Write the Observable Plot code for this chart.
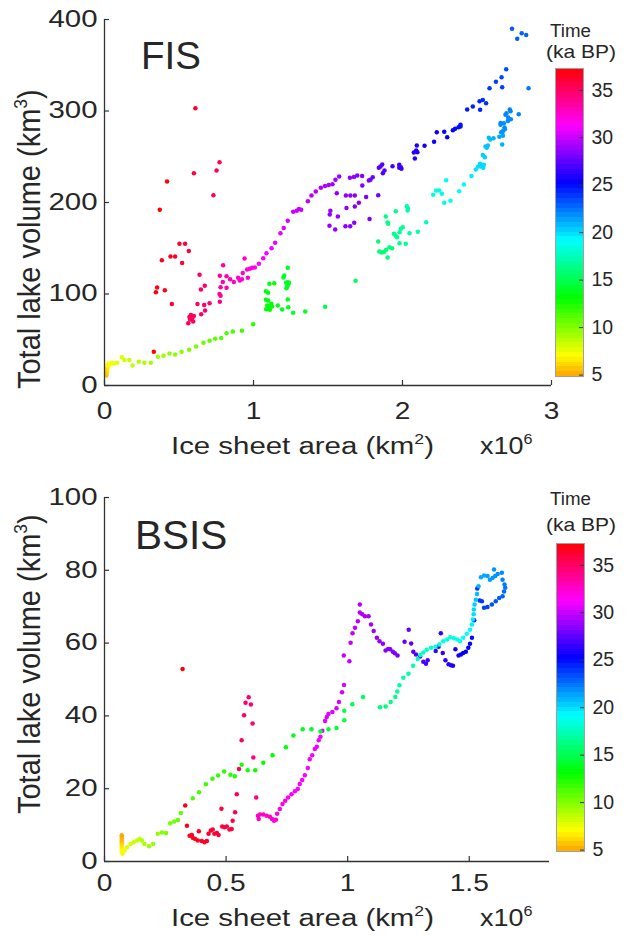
<!DOCTYPE html>
<html><head><meta charset="utf-8">
<script src="https://cdn.jsdelivr.net/npm/d3@7"></script>
<script src="https://cdn.jsdelivr.net/npm/@observablehq/plot@0.6"></script>
<style>
body{margin:0;background:#fff;}
#fig{position:relative;width:629px;height:937px;overflow:hidden;font-family:"Liberation Sans",Arial,sans-serif;background:#fff;}
#fig svg{position:absolute;overflow:visible;}
</style></head><body><div id="fig"></div>
<script>
// ---------- FIS (ice sheet area in 10^6 km2, lake volume km3, time ka BP) ----------
const fisArea = [
0.61,0.42,0.371,0.331,0.353,0.345,0.405,0.452,0.385,0.443,0.474,0.503,0.541,0.566,0.521,
0.60,0.772,0.752,0.731,0.638,0.647,0.673,0.624,0.669,0.705,0.675,0.57,0.58,0.59,0.575,0.585,0.595,0.562,0.60,0.649,
0.796,0.774,0.819,0.779,0.819,0.794,0.772,0.779,0.774,0.843,
0.868,0.897,0.908,0.922,0.94,0.957,0.928,0.962,0.975,0.991,
1.009,1.036,1.065,1.087,1.121,1.145,1.181,1.203,1.23,1.266,
1.29,1.305,1.32,1.365,1.389,1.418,1.452,1.48,1.505,1.53,
1.55,1.575,
1.647,1.674,1.696,1.729,1.73,1.774,1.785,1.80,1.559,1.62,
1.65,1.68,1.756,1.837,1.707,1.68,1.624,1.516,1.512,1.566,
1.779,1.676,1.649,1.617,1.51,1.548,
1.879,1.864,1.852,1.841,1.868,1.933,1.978,1.978,1.989,1.993,
2.083,2.076,2.1,2.092,2.096,2.148,2.212,2.23,2.28,2.3,
2.338,2.353,2.376,2.389,2.389,2.434,2.472,2.521,2.517,2.539,
2.561,2.584,2.627,2.669,2.665,2.696,
2.735,2.77,2.8,2.83,2.846,
2.658,2.672,2.687,2.658,2.68,2.691,2.698,2.72,2.725,2.709,
2.727,2.707,2.685,2.662,2.676,2.78,
2.65,2.669,2.674,2.589,2.611,2.579,2.566,2.557,2.573,2.539,
2.553,2.492,2.508,2.526,2.542,2.546,2.521,2.463,2.412,2.38,
2.322,2.293,2.28,2.264,2.246,2.226,2.206,
2.159,2.103,2.047,2.029,2.034,2.036,2.022,1.98,1.989,2.002,
1.98,1.953,1.942,1.964,1.955,1.888,1.9,1.904,1.93,1.913,
1.9,1.89,1.875,1.859,1.844,1.837,1.685,1.481,1.347,
1.266,1.23,1.206,1.201,1.221,1.219,1.226,1.23,1.239,1.233,
1.23,1.233,1.192,1.163,1.139,1.107,1.083,1.098,1.083,1.098,
1.119,1.085,1.103,1.125,1.11,1.092,
0.998,0.922,0.861,0.819,0.783,0.743,0.705,0.664,0.615,0.568,
0.517,0.474,0.436,0.396,0.358,0.311,0.268,0.23,0.188,0.166,
0.134,0.116,0.085,0.063,0.05,0.036,0.028,0.022,0.018,0.015,
0.013,0.01,0.012,0.02];
const fisVolume = [
303,223,192,37,107,102,104,89,137,141,141,155,155,147,134,
232,244,235,208,121,105,109,89,88,90,82,75,77,74,72,73,70,68,76,78,
131.5,120,119.5,107.5,106.7,113,100,98,91.4,116,
113,117.7,114.8,116,138.8,126.8,123,117.7,127.5,128.6,
129,133,139,144.6,150,156,166.5,172,180,190,
191,193,192,201.5,207.6,212,216,218,219,220,
224.8,228.4,
227,228,229.5,229,218.6,224,224.8,227.7,210,207.6,
207.6,207.6,206,208,199.6,195.6,194,191,187,184.7,
182,177.8,174,174,174.5,170.5,
235,241.5,239.3,237.9,232,239.7,241.2,237.9,238.6,236.8,
248,254.6,255,256.8,262.3,262,266.3,276.9,277.2,271.4,
279,280.5,282.3,283,284.9,301.6,305,301.3,310.7,312,
308.6,325,332,326,337,345.7,
390,379,385,383,325,
285,277,280,287,286.7,295.8,297.6,301.6,299.8,293,
291,289,282,276.9,278.7,296.5,
271.8,263.4,272.9,268.9,270.3,270.7,259.7,261.2,262.3,252,
249.5,236,239.3,239.3,237.9,241.2,242.3,229,219.7,212.4,
201.8,224.4,199.6,209.5,213,213,208.4,
178.5,168,166.5,196,191.3,193.8,154.8,155.6,171.2,173,
167.6,164,165.8,162,190.5,184.7,178.1,176.7,150,151,
140,148.3,146,145.4,146.4,157.4,114.4,86,80.9,
79.4,128.6,120.2,118,106.4,112.2,108.6,112.9,112.2,110.4,
94,85.6,83,87.4,111.8,111.1,103.1,101.3,93.6,92.9,
89.3,83.4,85.6,86.3,82.7,87.4,
67,59.7,59,57.2,52,51,49,46.6,42.6,39,
37,34,35,32.4,31.3,25,25,26,21.9,28,
28,31,25,24,25,23,24,20,16.4,14,
11,13,18,22];
const fisTime = [
36.6,37.0,37.1,37.2,36.8,36.9,36.6,36.4,36.8,36.5,36.4,36.2,36.1,35.9,36.1,
35.6,35.0,35.1,35.2,35.0,35.0,34.8,35.1,34.8,34.5,34.7,35.4,35.3,35.3,35.3,35.2,35.1,35.3,35.1,34.8,
33.5,33.6,33.2,33.6,33.2,33.4,33.8,33.8,34,32.9,
32.8,32.6,32.5,32.4,32.4,32.2,32.3,32.2,32,31.9,
31.8,31.6,31.4,31.2,31,30.8,30.6,30.5,30.3,30.1,
30,29.9,29.9,29.7,29.6,29.5,29.4,29.3,29.2,29.1,
29,28.9,
28.6,28.5,28.4,28.3,28.3,28.1,28,27.9,28.8,28.6,
28.5,28.4,28.2,28,28.4,28.4,28.6,28.8,28.8,28.7,
28.2,28.4,28.5,28.5,28.8,28.7,
27.3,27.2,27.2,27.3,27.2,26.8,26.6,26.6,26.5,26.5,
26.1,26.1,26,26,25.9,25.7,25.5,25.4,25.3,25.2,
25.1,25,24.9,24.9,24.8,24.6,24.5,24.4,24.3,24.2,
24.1,23.9,23.7,23.6,23.5,23.4,
23.1,23,22.9,22.8,22.3,
21.8,21.7,21.8,21.9,21.9,22,22,22.1,22.1,22,
22,21.9,21.8,21.6,21.7,22.1,
21.2,21,21.2,20.8,20.9,20.8,20.5,20.5,20.6,20.3,
20.2,19.8,19.9,19.9,20,20,20,19.6,19.3,19.1,
18.9,18.8,18.6,18.5,18.4,18.3,18.2,
17.6,17.3,17,16.9,16.9,16.9,16.7,16.6,16.6,16.6,
16.5,16.5,16.4,16.5,16.3,16.2,16.2,16.2,16.1,16.1,
16,16,15.9,15.9,15.8,15.8,15.2,14.6,14.3,
14.1,14,14,14,13.9,13.9,13.9,13.9,13.9,13.9,
13.8,13.8,13.7,13.6,13.5,13.5,13.4,13.4,13.3,13.3,
13.3,13.2,13.2,13.2,13.1,13.2,
12.0,11.7,11.5,11.3,11.1,10.9,10.7,10.5,10.3,10.1,
9.9,9.7,9.6,9.5,9.3,9.1,8.9,8.7,8.5,8.3,
8.1,7.9,7.7,7.5,7.3,7.1,7.0,6.8,6.5,6.1,
5.5,5.8,6.3,6.9];

// ---------- BSIS ----------
const bsisArea = [
0.321,0.332,0.339,0.35,0.359,0.363,0.373,0.384,0.388,0.4,
0.411,0.421,0.428,0.437,0.445,0.452,0.462,0.469,0.481,0.484,
0.493,0.503,0.514,0.523,0.527,0.537,0.544,0.553,0.564,0.574,
0.58,0.593,0.602,0.609,0.612,0.624,
0.631,0.634,0.639,0.653,0.667,0.68,0.689,0.697,0.705,0.71,
0.721,0.732,0.743,0.755,0.769,0.783,0.795,0.803,0.813,0.824,
0.836,0.844,0.854,0.865,0.873,0.881,0.888,0.896,0.907,0.914,
0.921,0.937,0.954,0.964,0.977,0.985,
1.007,0.984,1.012,1.02,1.03,1.042,1.05,1.05,1.06,1.071,
1.086,1.096,1.107,1.12,1.131,1.145,1.156,1.166,1.175,1.186,
1.194,1.205,
1.234,1.251,1.261,1.27,1.281,1.298,1.311,1.322,1.329,1.362,
1.374,1.383,1.391,1.402,1.415,1.425,1.433,1.443,1.456,1.466,
1.475,1.486,1.496,1.503,1.511,
1.52,1.533,1.543,1.552,1.561,1.575,1.593,1.609,1.623,1.637,
1.643,1.648,1.645,1.637,1.634,
1.617,1.607,1.596,1.585,1.575,1.602,1.561,1.548,
1.538,1.532,1.527,1.522,1.519,1.518,1.515,1.511,1.503,1.49,
1.475,1.462,1.451,1.437,1.422,1.409,1.393,1.377,1.361,1.343,
1.325,1.311,1.299,1.288,1.269,1.25,1.229,
1.213,1.204,1.196,1.177,1.156,1.133,1.063,1.019,0.986,0.986,
0.954,0.921,0.888,0.851,0.815,0.777,0.746,0.691,0.653,0.62,
0.589,0.564,0.536,0.518,0.492,0.467,0.444,0.417,0.389,0.363,
0.314,0.302,0.287,0.27,0.253,0.236,0.219,0.2,0.183,0.164,
0.154,0.145,0.134,0.12,0.107,0.093,0.082,0.074,
0.071,0.071,0.071,0.071,0.071,0.071,0.071,0.071,0.071,0.071];
const bsisVolume = [
52.9,15.4,9.8,7.1,7.3,6.5,6.2,5.75,8.3,5.6,
5.3,5.6,7.6,8.5,8.8,7.6,7.8,7.3,14.5,9.6,
9.4,9.6,8.8,8.9,11.2,13.5,18.5,25.4,33.3,40.2,
43.6,45.1,43.1,37.9,28.6,17.6,
12.6,11.7,12.9,12.9,12.6,12.3,11.7,11.2,11.5,13.1,
14.4,15.8,16.7,17.6,18.5,19.3,19.9,21.3,22.4,23.7,
25.7,28.1,29.2,30.9,31.5,33.3,34.3,35.9,38.6,39.7,
40.5,41.1,42.1,43.8,46.5,48.5,
55,56.6,60.1,62.7,64.2,66,70.6,68.4,67.9,67.4,
67.4,65.1,63.3,61.5,60.5,59.8,58,58.4,58.3,57.6,
57.2,56.6,
60.4,63.7,59.9,57.6,56.9,56.3,54.9,54.3,55.3,57.8,
59,62.7,57.3,55.3,54.2,53.9,53.8,58.3,56.6,56.9,
57.3,57.6,58.7,59.8,61.5,
66.3,75,71.7,71.5,69.7,69.9,70.6,71.5,72.4,72.9,
74.2,75.2,76.1,77.4,79.3,
79,78.4,77.9,77.4,78.4,80.2,78.6,78.1,
75.6,73.5,71.9,70.6,69.2,67.9,66.5,65.1,63.7,62.6,
61.5,60.5,61,61.3,61.6,61,60.5,59.6,59,58.7,
58.2,57.4,56.7,55.6,53.8,51.6,50.5,
48.4,46.7,45.2,43.8,42.6,42.4,45.2,43.2,41.4,38.8,
36.7,36.3,35.7,36.3,36.3,34.6,31.4,29.2,27.1,25.1,
25.1,26.6,23.4,23.8,24.7,23.6,22.7,21.2,19,17.4,
13.3,11.4,11,10.5,7.8,8,7.6,4.8,4.2,4.8,
5.75,6.2,5.75,5.3,4.8,3.9,3,2.1,
2.8,3.3,3.8,4.3,4.8,5.3,5.8,6.3,6.8,7.2];
const bsisTime = [
37.1,36.9,36.8,36.7,36.7,36.6,36.6,36.5,36.5,36.4,
36.4,36.3,36.3,36.2,36.2,36.1,36.1,36,36,35.9,
35.9,35.8,35.8,35.7,35.6,35.5,35.3,35.2,35,34.9,
34.8,34.7,34.6,34.5,34.4,34.2,
32.8,32.7,32.6,32.6,32.5,32.4,32.3,32.3,32.2,32.1,
32.0,31.9,31.9,31.8,31.7,31.6,31.5,31.5,31.4,31.3,
31.2,31.2,31.1,31.0,30.9,30.9,30.8,30.7,30.7,30.6,
30.5,30.5,30.4,30.4,30.3,30.3,
30,30.1,29.9,29.8,29.7,29.6,29.5,29.4,29.3,29.2,
29.1,29,28.9,28.8,28.7,28.6,28.5,28.4,28.3,28.2,
28.1,28,
27.6,27.5,27.4,27.3,27.2,27.1,27,26.9,26.8,26.6,
26.5,26.4,26.3,26.2,26.1,26,25.9,25.7,25.5,25.4,
25.3,25.2,25.1,25,24.9,
24.6,24.3,24.1,23.9,23.8,23.6,23.4,23.2,23,22.8,
22.6,22.4,22.3,22.1,21.9,
21.8,21.7,21.6,21.5,21.4,21.6,21.2,21.1,
20.9,20.7,20.5,20.3,20.1,19.9,19.7,19.5,19.3,19.1,
18.9,18.8,18.7,18.6,18.5,18.4,18.3,18.2,18.1,18,
17.9,17.8,17.7,17.6,17.4,17.2,17,
16.8,16.6,16.4,16.2,16,15.8,15.4,15.1,14.9,14.8,
14.6,14.4,14.2,14,13.8,13.6,13.4,13.2,13,12.8,
12.6,12.5,12.3,12.2,12.1,12,11.8,11.6,11.4,11.2,
10.9,10.7,10.5,10.3,10.1,9.9,9.7,9.5,9.3,9.1,
8.9,8.7,8.5,8.3,8.1,7.9,7.7,7.5,
7.3,7.0,6.7,6.4,6.1,5.8,5.5,5.3,5.1,4.9];

// ---------- ticks ----------
const fisXTicks = [0, 1, 2, 3];
const fisYTicks = [0, 100, 200, 300, 400];
const bsisXTicks = [0, 0.5, 1, 1.5];
const bsisYTicks = [0, 20, 40, 60, 80, 100];
const timeTicks = [5, 10, 15, 20, 25, 30, 35];
const timeDomain = [4.85, 37.3];

const FONT = "'Liberation Sans', Arial, Helvetica, sans-serif";
const INK = "#262626";
const AXIS = "#333";
const fmt = d3.format("~g");
const colorOpts = {
  type: "linear", domain: timeDomain,
  interpolate: (u) => d3.hsl(38.5 + 321.3 * u, 1, 0.5).formatHex()
};

const fig = document.getElementById("fig");

// widen tick-label glyphs horizontally around their anchor (keeps em-based y offsets)
function stretch(svg, selector, sx) {
  svg.querySelectorAll(selector).forEach((t) => {
    const tr = t.getAttribute("transform") || "";
    const x = t.getAttribute("x");
    let extra = "";
    if (x !== null && !/em$/.test(x)) {
      extra = ` translate(${+x || 0},0)`;
      t.removeAttribute("x");
    }
    t.setAttribute("transform", `${tr}${extra} scale(${sx},1)`.trim());
  });
}

function addText(svg, {x, y, size, sx = 1, rotate = 0, anchor = "start", parts}) {
  const t = d3.select(svg).append("text")
    .attr("transform", `translate(${x},${y}) scale(${sx},1)${rotate ? ` rotate(${rotate})` : ""}`)
    .attr("font-family", FONT).attr("font-size", size).attr("fill", INK)
    .attr("text-anchor", anchor);
  let back = 0;
  for (const p of parts) {
    if (typeof p === "string") {
      const ts = t.append("tspan").text(p);
      if (back) { ts.attr("dy", back); back = 0; }
    } else {
      const sh = size * 0.42;
      t.append("tspan").attr("font-size", size * 0.6).attr("dy", -sh).text(p.sup);
      back = sh;
    }
  }
}

function panel({area, vol, time, xDomain, xTicks, yDomain, yTicks, top, height, marginTop, marginBottom, marginRight, xPad, title, titleX, titleY, titleSize, yLabelStart, xLabelY, cbTitle}) {
  const rows = area.map((a, i) => ({a, v: vol[i], t: time[i]}));
  const innerW = 629 - 104 - marginRight;
  const innerH = height - marginTop - marginBottom;
  const svg = Plot.plot({
    width: 629, height,
    marginLeft: 104, marginRight, marginTop, marginBottom,
    style: {fontFamily: FONT, color: INK, background: "transparent", overflow: "visible"},
    x: {domain: xDomain}, y: {domain: yDomain},
    color: colorOpts,
    marks: [
      Plot.dot(rows, {x: "a", y: "v", fill: "t", r: 2.25}),
      Plot.ruleX([0], {stroke: AXIS, strokeWidth: 1.3}),
      Plot.ruleY([0], {stroke: AXIS, strokeWidth: 1.3}),
      // inward tick marks
      Plot.ruleX(xTicks, {stroke: AXIS, strokeWidth: 1.2, insetTop: innerH - 5}),
      Plot.ruleY(yTicks, {stroke: AXIS, strokeWidth: 1.2, insetRight: innerW - 5}),
      Plot.axisX({ticks: xTicks, tickSize: 0, tickPadding: xPad, fontSize: 24, color: INK, label: null, tickFormat: fmt}),
      Plot.axisY({ticks: yTicks, tickSize: 0, tickPadding: 7, fontSize: 23, color: INK, label: null, tickFormat: fmt})
    ]
  });
  svg.style.left = "0px"; svg.style.top = top + "px";
  stretch(svg, 'g[aria-label="x-axis tick label"] text', 1.17);
  stretch(svg, 'g[aria-label="y-axis tick label"] text', 1.28);
  addText(svg, {x: titleX, y: titleY, size: titleSize, parts: [title]});
  addText(svg, {x: 40, y: yLabelStart, size: 29, sx: 1.1, rotate: -90, parts: ["Total lake volume (km", {sup: "3"}, ")"]});
  addText(svg, {x: 171, y: xLabelY, size: 24.5, sx: 1.2, parts: ["Ice sheet area (km", {sup: "2"}, ")"]});
  addText(svg, {x: 480, y: xLabelY, size: 24.5, sx: 1.1, parts: ["x10", {sup: "6"}]});
  addText(svg, {x: 550, y: cbTitle[0], size: 17.5, sx: 1.07, parts: ["Time"]});
  addText(svg, {x: 546, y: cbTitle[1], size: 17.5, sx: 1.2, parts: ["(ka BP)"]});
  fig.appendChild(svg);
}

function colorbar(left, top) {
  const n = 64, step = (timeDomain[1] - timeDomain[0]) / n;
  const bands = d3.range(n).map((i) => ({
    lo: timeDomain[0] + i * step, hi: timeDomain[0] + (i + 1) * step, mid: timeDomain[0] + (i + 0.5) * step
  }));
  const barW = 28;
  const svg = Plot.plot({
    width: 75, height: 328, marginLeft: 1, marginRight: 75 - 1 - barW, marginTop: 10, marginBottom: 10,
    style: {fontFamily: FONT, color: INK, background: "transparent", overflow: "visible"},
    x: {domain: [0, 1], axis: null}, y: {domain: timeDomain, axis: null},
    color: colorOpts,
    marks: [
      Plot.rect(bands, {x1: 0, x2: 1, y1: "lo", y2: "hi", fill: "mid", shapeRendering: "crispEdges"}),
      Plot.frame({stroke: "#a0a0a0", strokeWidth: 1}),
      Plot.ruleY(timeTicks, {stroke: AXIS, strokeWidth: 1, insetLeft: barW - 4}),
      Plot.axisY({anchor: "right", ticks: timeTicks, tickSize: 0, tickPadding: 8, fontSize: 19.5, color: INK, label: null})
    ]
  });
  svg.style.left = left + "px"; svg.style.top = top + "px";
  fig.appendChild(svg);
}

panel({area: fisArea, vol: fisVolume, time: fisTime, xDomain: [0, 3], xTicks: fisXTicks,
  yDomain: [0, 400], yTicks: fisYTicks, top: 0, height: 470, marginTop: 19, marginBottom: 85, marginRight: 78,
  xPad: 16, title: "FIS", titleX: 141, titleY: 69, titleSize: 38.5, yLabelStart: 389, xLabelY: 454, cbTitle: [37, 58]});
panel({area: bsisArea, vol: bsisVolume, time: bsisTime, xDomain: [0, 1.83], xTicks: bsisXTicks,
  yDomain: [0, 100], yTicks: bsisYTicks, top: 470, height: 467, marginTop: 27, marginBottom: 76, marginRight: 80,
  xPad: 12, title: "BSIS", titleX: 135, titleY: 79, titleSize: 40.5, yLabelStart: 344, xLabelY: 456, cbTitle: [35, 61]});
colorbar(554, 58);
colorbar(555, 533);
</script></body></html>
